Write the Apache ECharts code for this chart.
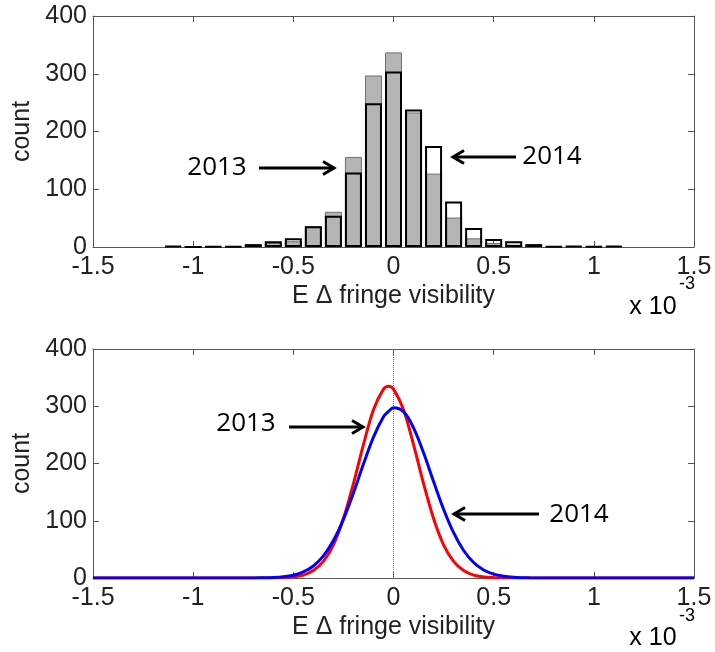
<!DOCTYPE html>
<html><head><meta charset="utf-8">
<script src="https://cdn.jsdelivr.net/npm/echarts@6/dist/echarts.min.js"></script>
<style>html,body{margin:0;padding:0;background:#fff}#c{width:715px;height:652px}</style>
</head><body><div id="c"></div>
<script>
// ---- data (x values in units of 1e-3) ----
const binCenters = [-1.1,-1.0,-0.9,-0.8,-0.7,-0.6,-0.5,-0.4,-0.3,-0.2,-0.1,0,0.1,0.2,0.3,0.4,0.5,0.6,0.7,0.8,0.9,1.0,1.1];
const counts2014 = [2,0,1,1,5,10,15,36,54,129,249,304,238,175,79,33,14,10,5,1,2,1,2];
const counts2013 = [1,0,1,1,3,7,10,36,61,156,297,337,233,127,51,15,7,4,2,0,1,0,1];

const curveX  = [-1.5,-0.7,-0.65,-0.6,-0.55,-0.5,-0.45,-0.4,-0.35,-0.3,-0.25,-0.2,-0.15,-0.1,-0.05,-0.025,0,0.05,0.1,0.15,0.2,0.25,0.3,0.35,0.4,0.45,0.5,0.55,0.6,0.65,0.7,1.5];
const fit2013 = [0,0,0,0.2,0.6,1.8,5,13,29,58,104,165,233,294,330,335,330,294,233,165,104,58,29,13,5,1.8,0.6,0.2,0,0,0,0];
const fit2014 = [0,0,0.3,0.8,2.1,4.9,10.6,21,38.6,65.4,102.5,148.6,199,246,281.6,291,297.5,290.6,262.3,218.7,168.6,120.1,79.1,48.1,27,14,6.7,3,1.2,0.5,0,0];

const xTickValues = [-1.5,-1,-0.5,0,0.5,1,1.5];
const yTickValues = [0,100,200,300,400];

// ---- chart ----
const fontFam = '"Liberation Sans", Arial, Helvetica, sans-serif';
const annFont = '26px "Open Sans", "Liberation Sans", sans-serif';
const axisColor = '#555';
const xMin = xTickValues[0], xMax = xTickValues[xTickValues.length-1], xInt = xTickValues[1]-xTickValues[0];
const yMin = yTickValues[0], yMax = yTickValues[yTickValues.length-1], yInt = yTickValues[1]-yTickValues[0];

function xAx(gridIndex, position, main) {
  return {
    type: 'value', gridIndex, position, min: xMin, max: xMax, interval: xInt,
    axisLine: {show: true, onZero: false, lineStyle: {color: axisColor, width: 1}},
    axisTick: {show: true, inside: true, length: 6, lineStyle: {color: axisColor}},
    axisLabel: {show: main, color: '#222', fontSize: 25, fontFamily: fontFam, margin: 8,
      showMinLabel: true, showMaxLabel: true, hideOverlap: false,
      formatter: v => String(+(+v).toFixed(1))},
    splitLine: {show: false},
    name: main ? 'E \u0394 fringe visibility' : '',
    nameLocation: 'middle', nameGap: 37,
    nameTextStyle: {color: '#222', fontSize: 25, fontFamily: fontFam}
  };
}
function yAx(gridIndex, position, main) {
  return {
    type: 'value', gridIndex, position, min: yMin, max: yMax, interval: yInt,
    axisLine: {show: true, onZero: false, lineStyle: {color: axisColor, width: 1}},
    axisTick: {show: true, inside: true, length: 6, lineStyle: {color: axisColor}},
    axisLabel: {show: main, color: '#222', fontSize: 25, fontFamily: fontFam, margin: 6,
      showMinLabel: true, showMaxLabel: true},
    splitLine: {show: false},
    name: main ? 'count' : '',
    nameLocation: 'middle', nameGap: 58,
    nameTextStyle: {color: '#222', fontSize: 25, fontFamily: fontFam}
  };
}

function arrow(x1, y, x2) {
  const d = Math.sign(x2 - x1);
  return {type: 'group', children: [
    {type: 'line', shape: {x1: x1, y1: y, x2: x2 - d * 1.5, y2: y}, style: {stroke: '#000', lineWidth: 3}},
    {type: 'polyline', shape: {points: [[x2 - d * 11, y - 6.5], [x2, y], [x2 - d * 11, y + 6.5]]},
      style: {stroke: '#000', lineWidth: 3, fill: 'none'}}
  ]};
}
function label(text, x, y, font) {
  return {type: 'text', x, y, style: {text, font: font || annFont, fill: '#000', align: 'center', verticalAlign: 'middle'}};
}

const chart = echarts.init(document.getElementById('c'), null, {renderer: 'canvas'});
chart.setOption({
  animation: false,
  backgroundColor: '#fff',
  grid: [
    {left: 93, top: 16, width: 601, height: 231},
    {left: 93, top: 349, width: 601, height: 229}
  ],
  xAxis: [xAx(0, 'bottom', true), xAx(0, 'top', false), xAx(1, 'bottom', true), xAx(1, 'top', false)],
  yAxis: [yAx(0, 'left', true), yAx(0, 'right', false), yAx(1, 'left', true), yAx(1, 'right', false)],
  series: [
    {type: 'bar', name: '2013', xAxisIndex: 0, yAxisIndex: 0, barWidth: 17, barGap: '-100%', z: 2,
      itemStyle: {color: '#b4b4b4', borderColor: '#707070', borderWidth: 1},
      data: binCenters.map((x, i) => [x, counts2013[i]])},
    {type: 'bar', name: '2014', xAxisIndex: 0, yAxisIndex: 0, barWidth: 17, barGap: '-100%', z: 3,
      itemStyle: {color: 'rgba(0,0,0,0)', borderColor: '#000', borderWidth: 2},
      data: binCenters.map((x, i) => [x, counts2014[i]])},
    {type: 'line', name: 'zero', xAxisIndex: 2, yAxisIndex: 2, z: 1, showSymbol: false, silent: true,
      lineStyle: {color: '#777', width: 1, type: 'dotted'},
      data: [[0, yMin], [0, yMax]]},
    {type: 'line', name: '2013 fit', xAxisIndex: 2, yAxisIndex: 2, z: 3, showSymbol: false, smooth: 0.35,
      lineStyle: {color: '#ff0000', width: 3},
      data: curveX.map((x, i) => [x, fit2013[i]])},
    {type: 'line', name: '2014 fit', xAxisIndex: 2, yAxisIndex: 2, z: 4, showSymbol: false, smooth: 0.35,
      lineStyle: {color: '#0000ff', width: 3},
      data: curveX.map((x, i) => [x, fit2014[i]])}
  ],
  graphic: [
    label('2013', 217, 168), arrow(259, 168, 334),
    label('2014', 552, 157), arrow(516, 157, 453),
    label('2013', 246, 424), arrow(289, 427, 363),
    label('2014', 579, 515), arrow(539, 514, 454),
    label('x 10', 653, 307, '25px ' + fontFam), label('-3', 687, 284, '18px ' + fontFam),
    label('x 10', 653, 638, '25px ' + fontFam), label('-3', 687, 616, '18px ' + fontFam)
  ]
});
</script>
</body></html>
